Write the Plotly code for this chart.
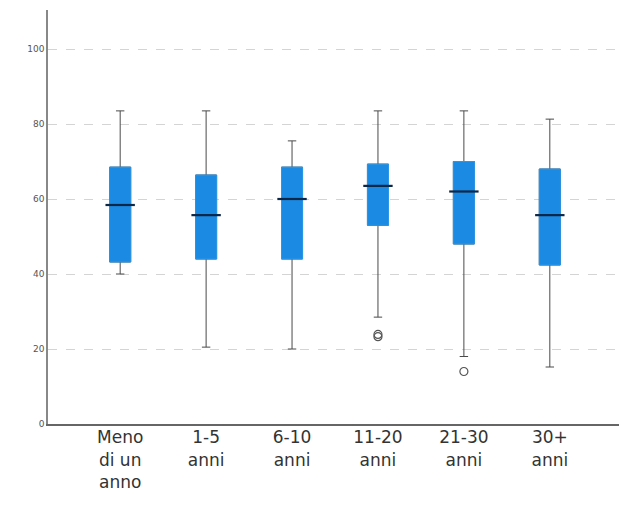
import plotly.graph_objects as go

categories = ["Meno<br>di un<br>anno", "1-5<br>anni", "6-10<br>anni", "11-20<br>anni", "21-30<br>anni", "30+<br>anni"]
lower_whisker = [40.0, 20.5, 20.0, 28.5, 18.0, 15.2]
q1_values = [43.2, 44.0, 44.0, 53.0, 48.0, 42.4]
median_values = [58.4, 55.7, 60.0, 63.5, 62.0, 55.7]
q3_values = [68.5, 66.4, 68.5, 69.3, 70.0, 68.0]
upper_whisker = [83.5, 83.5, 75.5, 83.5, 83.5, 81.3]
outlier_x = ["11-20<br>anni", "11-20<br>anni", "21-30<br>anni"]
outlier_y = [23.3, 23.9, 14.0]
y_ticks = [0, 20, 40, 60, 80, 100]

BOX_W = 0.245
fig = go.Figure()

# whiskers (with caps) drawn from the full statistics
fig.add_trace(go.Box(
    x=categories, q1=q1_values, median=median_values, q3=q3_values,
    lowerfence=lower_whisker, upperfence=upper_whisker,
    width=BOX_W, whiskerwidth=0.4,
    line=dict(color="#4a4a4a", width=1), fillcolor="rgba(255,255,255,0)",
    boxpoints=False, showlegend=False, hoverinfo="skip",
))
# filled box (quartiles only)
fig.add_trace(go.Box(
    x=categories, q1=q1_values, median=median_values, q3=q3_values,
    lowerfence=q1_values, upperfence=q3_values,
    width=BOX_W, whiskerwidth=0,
    line=dict(color="#2a97ea", width=1), fillcolor="#1a8ae2",
    boxpoints=False, showlegend=False,
))
# medians
fig.add_trace(go.Scatter(
    x=categories, y=median_values, mode="markers",
    marker=dict(symbol="line-ew", size=21, line=dict(color="#0b2748", width=2.2)),
    showlegend=False, hoverinfo="skip",
))
# outliers
fig.add_trace(go.Scatter(
    x=outlier_x, y=outlier_y, mode="markers",
    marker=dict(symbol="circle-open", size=8, color="#555", line=dict(color="#555", width=1.2)),
    showlegend=False,
))

fig.update_layout(
    width=619, height=497,
    margin=dict(l=40, r=5, t=2, b=81),
    paper_bgcolor="white", plot_bgcolor="white",
    boxmode="overlay",
    font=dict(family="DejaVu Sans, Arial, sans-serif"),
    xaxis=dict(
        type="category", categoryorder="array", categoryarray=categories,
        range=[-0.84, 5.84], showgrid=False, zeroline=False,
        showline=True, linecolor="#666", linewidth=2,
        ticks="", tickfont=dict(size=17, color="#333"),
        ticklabelstandoff=-3,
    ),
    yaxis=dict(
        range=[0, 110.4], tickvals=y_ticks, ticktext=[str(v) for v in y_ticks],
        showgrid=True, gridcolor="#d4d4d4", griddash="dash", gridwidth=1,
        zeroline=False, showline=True, linecolor="#888", linewidth=1.5,
        ticks="", tickfont=dict(size=9, color="#555"),
    ),
)

fig.write_html("out.html")
